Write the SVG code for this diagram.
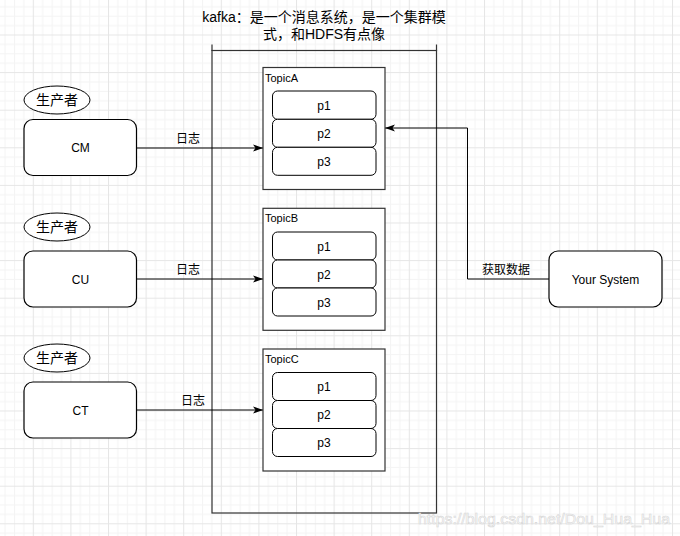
<svg xmlns="http://www.w3.org/2000/svg" width="680" height="536" viewBox="0 0 680 536">
<defs>
<pattern id="grid" patternUnits="userSpaceOnUse" x="32.8" y="34.5" width="37.6" height="37.6">
<rect width="37.6" height="37.6" fill="#ffffff"/>
<path d="M9.9 0V37.6M19.3 0V37.6M28.7 0V37.6M0 9.9H37.6M0 19.3H37.6M0 28.7H37.6" stroke="#f4f4f4" stroke-width="1" fill="none"/>
<path d="M0.5 0V37.6M0 0.5H37.6" stroke="#e6e6e6" stroke-width="1" fill="none"/>
</pattern>
<marker id="arr" markerUnits="userSpaceOnUse" markerWidth="11" markerHeight="8" refX="10" refY="3.5" orient="auto" overflow="visible">
<path d="M0,0 L10,3.5 L0,7 L2.5,3.5 Z" fill="#000"/>
</marker>
<style>
.t{font-family:"Liberation Sans",Arial,"Noto Sans CJK SC",sans-serif;fill:#000;}
.box{fill:#fff;stroke:#000;stroke-width:1.2;}
.part{fill:#fff;stroke:#000;stroke-width:1;}
.topic{fill:#fff;stroke:#333;stroke-width:1.2;}
.ell{fill:#fff;stroke:#000;stroke-width:1;}
.con{fill:none;stroke:#000;stroke-width:1;}
</style>
</defs>
<rect width="680" height="536" fill="url(#grid)"/>

<g id="kafka">
<rect x="212" y="50.5" width="224.5" height="462.5" fill="none" stroke="#333" stroke-width="1.2"/>
<path d="M212 44.5V51M436.5 44.5V51" stroke="#333" stroke-width="1.2"/>
<text class="t" font-size="14" text-anchor="middle" x="324" y="22">kafka：是一个消息系统，是一个集群模</text>
<text class="t" font-size="14" text-anchor="middle" x="324" y="39">式，和HDFS有点像</text>
</g>

<g id="connectors">
<line class="con" x1="137" y1="148" x2="263" y2="148" marker-end="url(#arr)"/>
<line class="con" x1="137" y1="279" x2="263" y2="279" marker-end="url(#arr)"/>
<line class="con" x1="137" y1="410" x2="263" y2="410" marker-end="url(#arr)"/>
<polyline class="con" points="549,279 467.5,279 467.5,128 385,128" marker-end="url(#arr)"/>
<text class="t" font-size="12" text-anchor="middle" x="188" y="143">日志</text>
<text class="t" font-size="12" text-anchor="middle" x="188" y="274">日志</text>
<text class="t" font-size="12" text-anchor="middle" x="193" y="405">日志</text>
<text class="t" font-size="12" text-anchor="middle" x="506" y="274">获取数据</text>
</g>

<g id="producerA">
<ellipse class="ell" cx="57" cy="100" rx="33" ry="14"/>
<text class="t" font-size="14" text-anchor="middle" x="57" y="105">生产者</text>
</g>
<g id="CM">
<rect class="box" x="24" y="119.5" width="112.5" height="56" rx="9"/>
<text class="t" font-size="12" text-anchor="middle" x="80.5" y="152">CM</text>
</g>
<g id="producerB">
<ellipse class="ell" cx="57" cy="227" rx="33" ry="14"/>
<text class="t" font-size="14" text-anchor="middle" x="57" y="232">生产者</text>
</g>
<g id="CU">
<rect class="box" x="24" y="251" width="112.5" height="56" rx="9"/>
<text class="t" font-size="12" text-anchor="middle" x="80.5" y="283.5">CU</text>
</g>
<g id="producerC">
<ellipse class="ell" cx="57" cy="358" rx="33" ry="14"/>
<text class="t" font-size="14" text-anchor="middle" x="57" y="363">生产者</text>
</g>
<g id="CT">
<rect class="box" x="24" y="382" width="112.5" height="56" rx="9"/>
<text class="t" font-size="12" text-anchor="middle" x="80.5" y="414.5">CT</text>
</g>

<g id="TopicA">
<rect class="topic" x="263" y="67.5" width="122" height="122"/>
<text class="t" font-size="11" x="265" y="81.5">TopicA</text>
<rect class="part" x="272.5" y="91" width="103.5" height="28.3" rx="5"/>
<rect class="part" x="272.5" y="119.3" width="103.5" height="28" rx="5"/>
<rect class="part" x="272.5" y="147.3" width="103.5" height="28" rx="5"/>
<text class="t" font-size="12" text-anchor="middle" x="324" y="109.5">p1</text>
<text class="t" font-size="12" text-anchor="middle" x="324" y="137.5">p2</text>
<text class="t" font-size="12" text-anchor="middle" x="324" y="165.5">p3</text>
</g>
<g id="TopicB">
<rect class="topic" x="263" y="208.3" width="122" height="122"/>
<text class="t" font-size="11" x="265" y="222.3">TopicB</text>
<rect class="part" x="272.5" y="232" width="103.5" height="28" rx="5"/>
<rect class="part" x="272.5" y="260" width="103.5" height="28" rx="5"/>
<rect class="part" x="272.5" y="288" width="103.5" height="28" rx="5"/>
<text class="t" font-size="12" text-anchor="middle" x="324" y="250.5">p1</text>
<text class="t" font-size="12" text-anchor="middle" x="324" y="278.5">p2</text>
<text class="t" font-size="12" text-anchor="middle" x="324" y="306.5">p3</text>
</g>
<g id="TopicC">
<rect class="topic" x="263" y="349" width="122" height="122"/>
<text class="t" font-size="11" x="265" y="363">TopicC</text>
<rect class="part" x="272.5" y="372.5" width="103.5" height="28" rx="5"/>
<rect class="part" x="272.5" y="400.5" width="103.5" height="28" rx="5"/>
<rect class="part" x="272.5" y="428.5" width="103.5" height="28" rx="5"/>
<text class="t" font-size="12" text-anchor="middle" x="324" y="391">p1</text>
<text class="t" font-size="12" text-anchor="middle" x="324" y="419">p2</text>
<text class="t" font-size="12" text-anchor="middle" x="324" y="447">p3</text>
</g>

<g id="YourSystem">
<rect class="box" x="549" y="251" width="113" height="56" rx="9"/>
<text class="t" font-size="12" text-anchor="middle" x="605.5" y="283.5">Your System</text>
</g>

<text class="t" font-size="15.5" x="418" y="524" textLength="252" lengthAdjust="spacingAndGlyphs" style="fill:#ffffff;stroke:#d6d6d6;stroke-width:0.6">https://blog.csdn.net/Dou_Hua_Hua</text>
</svg>
